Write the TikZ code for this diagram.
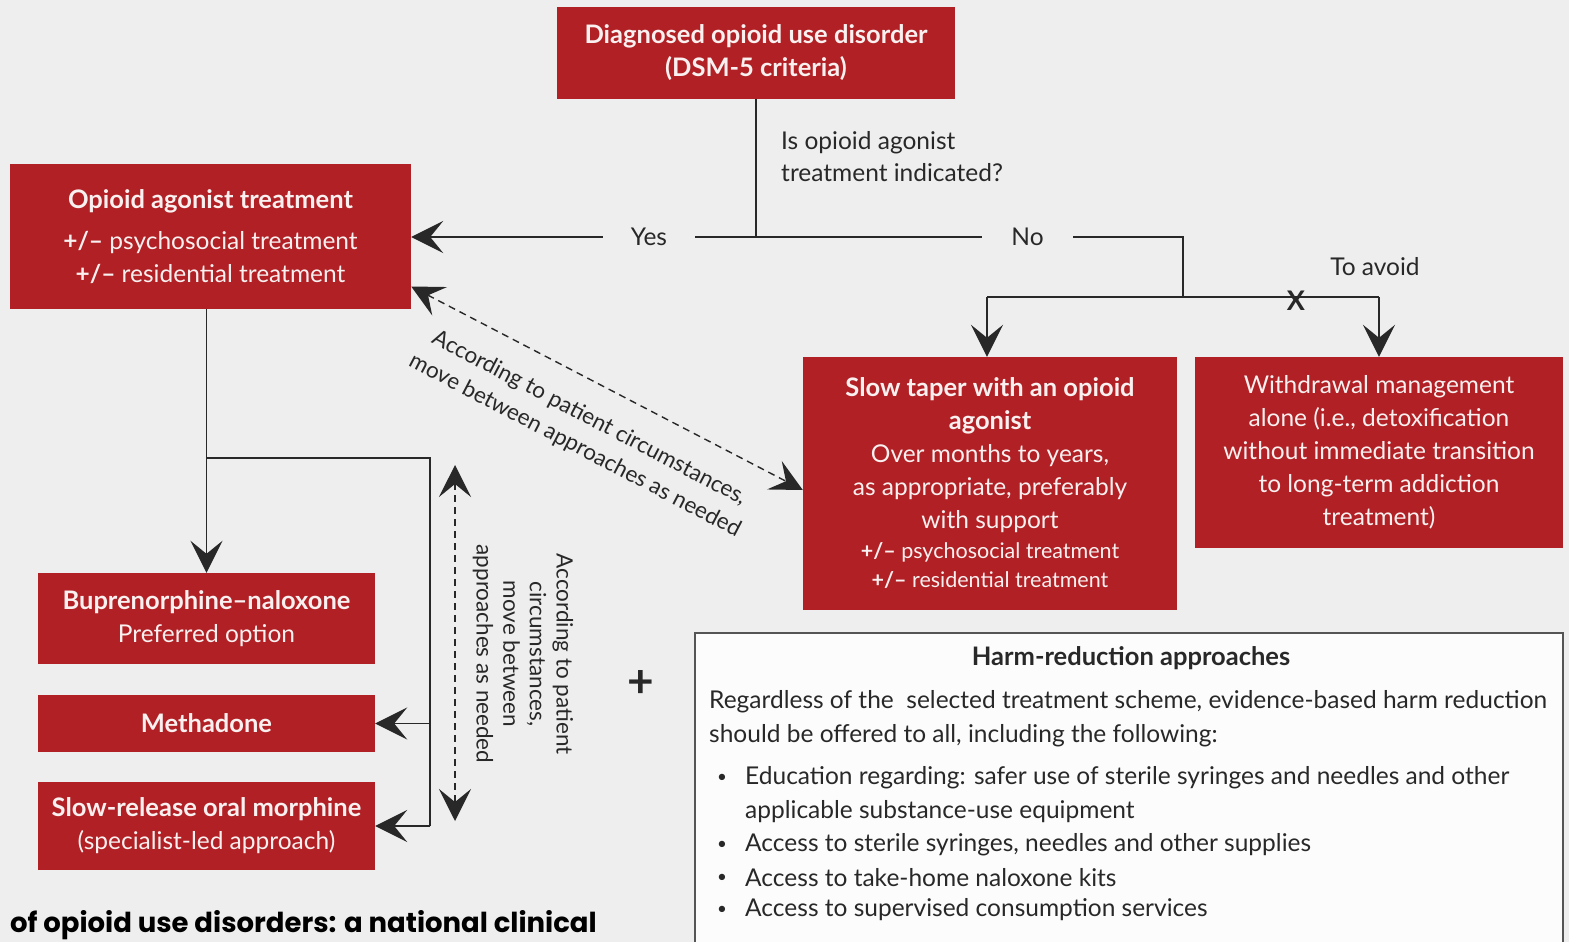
\documentclass[tikz,border=0pt]{standalone}
\usepackage{fontspec}
\setmainfont{Lato}
\newfontfamily\geo{Poppins}
\usetikzlibrary{arrows.meta}
\definecolor{bg}{RGB}{238,238,238}
\definecolor{boxred}{RGB}{176,32,37}
\definecolor{boxtext}{RGB}{250,240,240}
\definecolor{ink}{RGB}{40,40,40}
\definecolor{harmfill}{RGB}{252,252,252}
\definecolor{harmline}{RGB}{85,85,85}
\tikzset{
  redbox/.style={fill=boxred, text=boxtext, inner sep=0pt, align=center, font=\fontsize{24.5}{33}\selectfont},
  conn/.style={draw=ink, line width=1.5pt},
  tip/.tip={Stealth[length=32pt,width=32pt,inset=13pt]},
  arr/.style={conn, -tip},
  darr/.style={draw=ink, line width=1.4pt, dash pattern=on 7pt off 5pt, tip-tip},
  lbl/.style={text=ink, font=\fontsize{24.5}{32}\selectfont, inner sep=0pt},
  gap/.style={lbl, minimum height=10pt},
  harmtxt/.style={text=ink, font=\fontsize{24.5}{32}\selectfont, inner sep=0pt, anchor=west},
  bigbold/.style={font=\fontsize{25.5}{33}\selectfont\bfseries},
}
\newcommand\bb[1]{{\fontsize{25.5}{33}\selectfont\bfseries #1}}
\begin{document}
\begin{tikzpicture}[x=1pt,y=-1pt]
\useasboundingbox (0,0) rectangle (1569,942);
\clip (0,0) rectangle (1569,942);
\fill[bg] (0,0) rectangle (1569,942);

% boxes
\node[redbox, bigbold, minimum width=398pt, minimum height=91pt] (dx) at (756,53)
  {Diagnosed opioid use disorder\\(DSM-5 criteria)};
\node[redbox, minimum width=401pt, minimum height=145pt] (oat) at (210.5,236.5)
  {\bb{Opioid agonist treatment}\\[8pt]\textbf{+/–} psychosocial treatment\\\textbf{+/–} residential treatment};
\node[redbox, minimum width=337pt, minimum height=91pt] (bup) at (206.5,618.5)
  {\bb{Buprenorphine–naloxone}\\Preferred option};
\node[redbox, minimum width=337pt, minimum height=57pt] (meth) at (206.5,723.5)
  {\bb{Methadone}};
\node[redbox, minimum width=337pt, minimum height=88pt] (slow) at (206.5,826)
  {\bb{Slow-release oral morphine}\\(specialist-led approach)};
\node[redbox, minimum width=374pt, minimum height=253pt] (taper) at (990,483.5)
  {\bb{Slow taper with an opioid}\\\bb{agonist}\\Over months to years,\\as appropriate, preferably\\with support\\[-3pt]
   {\fontsize{21.5}{28}\selectfont\textbf{+/–} psychosocial treatment}\\[-4pt]{\fontsize{21.5}{28}\selectfont\textbf{+/–} residential treatment}};
\node[redbox, minimum width=368pt, minimum height=191pt] (wd) at (1379,452.5)
  {Withdrawal management\\alone (i.e., detoxification\\without immediate transition\\to long-term addiction\\treatment)};

% question
\node[lbl, align=left, anchor=north west] (q) at (781,131) {Is opioid agonist\\treatment indicated?};
\node[gap, minimum width=92pt] (yes) at (649,237) {Yes};
\node[gap, minimum width=91pt] (no) at (1027.5,237) {No};
\coordinate (j1) at (756,237);
\coordinate (j2) at (1183,237);
\coordinate (j3) at (1183,297);
\coordinate (ta) at (987,297);
\coordinate (wa) at (1379,297);
\draw[conn] (dx.south -| j1) -- (j1) -- (yes.east);
\draw[arr] (yes.west) -- (oat.east |- yes.west);
\draw[conn] (j1) -- (no.west);
\draw[conn] (no.east) -- (j2) -- (j3);
\draw[conn] (ta) -- (wa);
\draw[arr] (ta) -- (ta |- taper.north);
\draw[arr] (wa) -- (wd.north);
\node[lbl, font=\fontsize{27}{27}\selectfont\bfseries] (x) at (1296,301) {X};
\node[lbl] (avoid) at (1375,267) {To avoid};

% diagonal dashed
\draw[darr] ([yshift=-50pt]oat.east) -- ([yshift=-6.5pt]taper.west);
\node[lbl, font=\fontsize{22.5}{31}\selectfont, align=center, rotate=-27.6] (diag) at (582,432)
  {According to patient circumstances,\\move between approaches as needed};

% left tree
\coordinate (b0) at (206.5,458);
\coordinate (b1) at (430,458);
\coordinate (b2) at (430,723.5);
\coordinate (b3) at (430,826);
\draw[arr] (oat.south -| bup.north) -- (bup.north);
\draw[conn] (b0) -- (b1) -- (b3);
\draw[arr] (b2) -- (meth.east);
\draw[arr] (b3) -- (slow.east);

% vertical dashed
\coordinate (d1) at (455,465);
\coordinate (d2) at (455,821);
\draw[darr] (d1) -- (d2);
\node[lbl, font=\fontsize{22.5}{26.7}\selectfont, align=center, rotate=-90] (vtxt) at (523,654)
  {According to patient\\circumstances,\\move between\\approaches as needed};

\node[lbl, font=\fontsize{46}{46}\selectfont\bfseries] (plus) at (641,684) {+};

% harm reduction
\node[draw=harmline, line width=1.6pt, fill=harmfill, minimum width=868pt, minimum height=340pt, anchor=north west, inner sep=0pt] (harm) at (694,632) {};
\node[lbl, font=\fontsize{25.5}{32}\selectfont\bfseries] (htitle) at (1131,658) {Harm-reduction approaches};
\node[harmtxt] (p1) at (709,702) {Regardless of the\ \ selected treatment scheme, evidence-based harm reduction};
\node[harmtxt] (p2) at (709,736) {should be offered to all, including the following:};
\node[harmtxt] (i1) at (745,778) {Education regarding: safer use of sterile syringes and needles and other};
\node[harmtxt] (i1b) at (745,812) {applicable substance-use equipment};
\node[harmtxt] (i2) at (745,845) {Access to sterile syringes, needles and other supplies};
\node[harmtxt] (i3) at (745,878) {Access to take-home naloxone kits};
\node[harmtxt] (i4) at (745,910) {Access to supervised consumption services};
\foreach \yy/\nm in {778/u1,845/u2,878/u3,910/u4}
  \node[lbl, font=\fontsize{17}{17}\selectfont] (\nm) at (722,\yy) {•};

% caption fragment
\node[text=black, font=\geo\fontsize{27.5}{27.5}\selectfont\bfseries, anchor=east, inner sep=0pt] (cap) at (597,925)
  {of opioid use disorders: a national clinical};
\end{tikzpicture}
\end{document}
